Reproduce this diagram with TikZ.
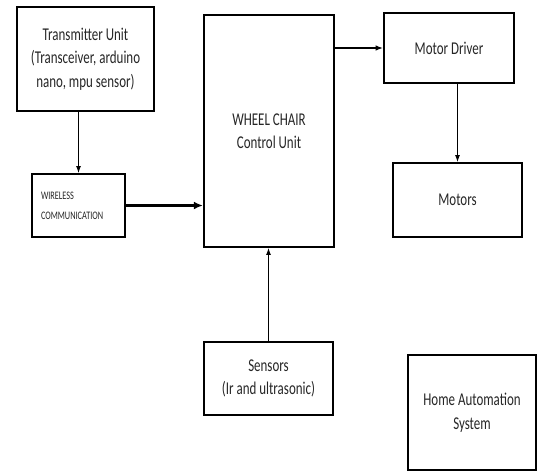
\documentclass[tikz,border=0pt]{standalone}
\usepackage{fontspec}
\setmainfont[FakeStretch=0.72]{Carlito}
\usetikzlibrary{arrows.meta,positioning}

\begin{document}
\begin{tikzpicture}[
  x=1pt, y=-1pt,
  blk/.style={rectangle, draw, line width=2.2pt, align=center,
              text=black!85, font=\fontsize{18}{23.5}\selectfont},
  smallblk/.style={rectangle, draw, line width=2.2pt, align=left,
              text=black!85, font=\fontsize{11.5}{20}\selectfont},
  arr/.style={-{Latex[length=2.4mm,width=1.7mm]}, line width=0.7pt},
  marr/.style={-{Latex[length=2.6mm,width=2mm]}, line width=1.3pt},
  tarr/.style={-{Latex[length=3.2mm,width=2.8mm]}, line width=2.6pt},
]
  \useasboundingbox (0,0) rectangle (537,472);

  % Transmitter side
  \node[blk, minimum width=137pt, minimum height=104pt] (tx) at (85.5,59)
    {Transmitter Unit\\(Transceiver, arduino\\nano, mpu sensor)};
  \node[smallblk, minimum width=93pt, minimum height=63pt,
        text width=75pt] (wl) at (78.5,205.5)
    {WIRELESS\\COMMUNICATION};

  % Control unit
  \node[blk, minimum width=130pt, minimum height=232pt] (cu) at (269,131)
    {WHEEL CHAIR\\Control Unit};

  % Motors
  \node[blk, minimum width=130pt, minimum height=70pt] (md) at (449,48)
    {Motor Driver};
  \node[blk, minimum width=129pt, minimum height=74pt] (mo) at (457.5,200)
    {Motors};

  % Sensors and home automation
  \node[blk, minimum width=129pt, minimum height=73pt] (se) at (268.5,378.5)
    {Sensors\\(Ir and ultrasonic)};
  \node[blk, minimum width=128pt, minimum height=115pt] (ha) at (472,412.5)
    {Home Automation\\System};

  % Arrows
  \draw[arr] (wl.north |- tx.south) -- (wl.north);
  \draw[tarr] (wl.east) -- (wl.east -| cu.west);
  \draw[marr] (md.west -| cu.east) -- (md.west);
  \draw[arr] (mo.north |- md.south) -- (mo.north);
  \draw[arr] (se.north) -- (se.north |- cu.south);
\end{tikzpicture}
\end{document}
